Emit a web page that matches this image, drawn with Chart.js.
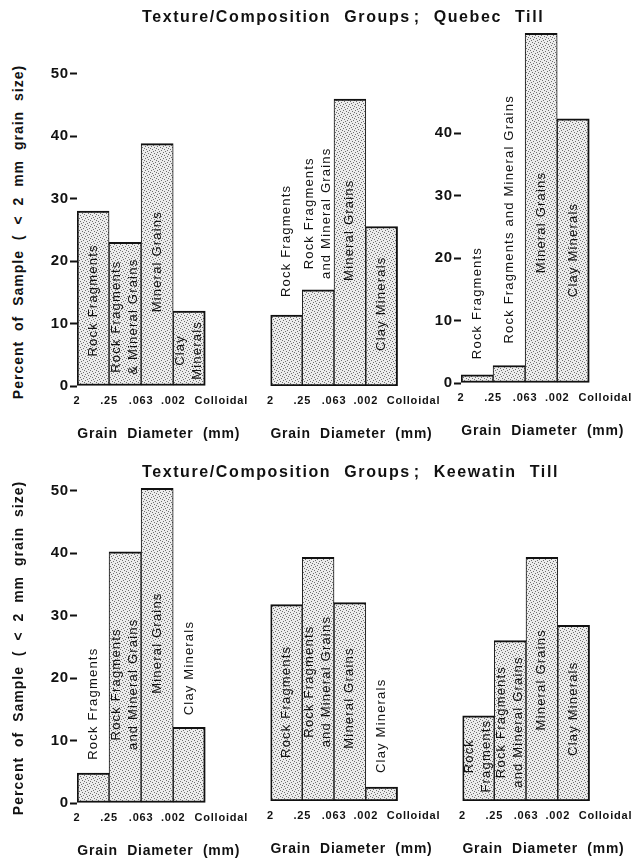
<!DOCTYPE html>
<html>
<head>
<meta charset="utf-8">
<script src="https://cdn.jsdelivr.net/npm/chart.js@4"></script>
<style>
html, body { margin: 0; padding: 0; background: #fff; }
body { width: 637px; height: 862px; position: relative; overflow: hidden;
       font-family: "Liberation Sans", Arial, sans-serif; color: #111; }
canvas { position: absolute; }
.title { position: absolute; font-weight: bold; font-size: 16px; letter-spacing: 1.6px;
         word-spacing: 7px; white-space: nowrap; transform: translateY(-50%); }
.ytitle { position: absolute; font-weight: bold; font-size: 14px; letter-spacing: 1px;
          word-spacing: 5px; white-space: nowrap; transform: translate(-50%, -50%) rotate(-90deg); }
</style>
</head>
<body>
<canvas id="qA" width="221" height="425" style="left:37px;top:20px"></canvas>
<canvas id="qB" width="191" height="425" style="left:259px;top:20px"></canvas>
<canvas id="qC" width="221" height="425" style="left:421px;top:17px"></canvas>
<canvas id="kA" width="221" height="425" style="left:37px;top:437px"></canvas>
<canvas id="kB" width="191" height="425" style="left:259px;top:435px"></canvas>
<canvas id="kC" width="191" height="425" style="left:451px;top:435px"></canvas>

<div class="title" style="left:142px;top:17px">Texture/Composition Groups&#8202;; Quebec Till</div>
<div class="title" style="left:142px;top:472px">Texture/Composition Groups&#8202;; Keewatin Till</div>
<div class="ytitle" style="left:18px;top:232px">Percent of Sample ( &lt; 2 mm grain size)</div>
<div class="ytitle" style="left:18px;top:648px">Percent of Sample ( &lt; 2 mm grain size)</div>

<script>
// grain size class boundaries (x axis)
const edgeLabels = ['2', '.25', '.063', '.002', 'Colloidal'];
const edgeValues = [0, 1, 2, 3, 4.5];
const leftTicks = [0, 10, 20, 30, 40, 50];
const rightTicks = [0, 10, 20, 30, 40];

// percent of sample, one value per texture/composition group
const quebecA = [28, 23, 38.8, 12];
const quebecB = [11.3, 15.3, 45.7, 25.4];
const quebecC = [1.3, 2.8, 56, 42.3];
const keewatinA = [4.8, 40.2, 50.4, 12.1];
const keewatinB = [31.1, 38.6, 31.4, 2.2];
const keewatinC = [13.5, 25.4, 38.6, 27.8];

// group names written inside / above the bars
const namesA = [['Rock Fragments'], ['Rock Fragments', '& Mineral Grains'], ['Mineral Grains'], ['Clay', 'Minerals']];
const namesB = [['Rock Fragments'], ['Rock Fragments', 'and Mineral Grains'], ['Mineral Grains'], ['Clay Minerals']];
const namesC = [['Rock Fragments'], ['Rock Fragments and Mineral Grains'], ['Mineral Grains'], ['Clay Minerals']];
const namesD = [['Rock', 'Fragments'], ['Rock Fragments', 'and Mineral Grains'], ['Mineral Grains'], ['Clay Minerals']];

// where the rotated names sit (centre, in axis units)
const nameAtQA = [13.7, 11.1, 19.9, 5.7];
const nameAtQB = [23.1, 27.5, 24.8, 13.1];
const nameAtQC = [12.8, 26.2, 25.7, 21.3];
const nameAtKA = [15.9, 19.0, 25.6, 21.6];
const nameAtKB = [15.7, 18.9, 16.3, 11.9];
const nameAtKC = [7.1, 12.5, 19.2, 14.6];

const FONT = '"Liberation Sans", Arial, sans-serif';
const INK = '#111';

// stippled grey fill like the printed figure
function stipple() {
    var c = document.createElement('canvas');
    c.width = 6; c.height = 6;
    var g = c.getContext('2d');
    g.fillStyle = '#ececec';
    g.fillRect(0, 0, 6, 6);
    g.fillStyle = '#6f6f6f';
    [[0, 0], [3, 1], [1, 3], [4, 4], [2, 5], [5, 2]].forEach(function (p) { g.fillRect(p[0], p[1], 1, 1); });
    return g.createPattern(c, 'repeat');
}
const fill = stipple();

const spacing = {
    id: 'spacing',
    beforeLayout: function (c) { c.ctx.letterSpacing = '0.8px'; },
    beforeDraw: function (c) { c.ctx.letterSpacing = '0.8px'; }
};

function barNames(lines, centres) {
    return {
        id: 'barNames',
        afterDatasetsDraw: function (chart) {
            var ctx = chart.ctx;
            var meta = chart.getDatasetMeta(0);
            var y = chart.scales.y;
            ctx.save();
            ctx.font = '13px ' + FONT;
            ctx.letterSpacing = '1.2px';
            ctx.fillStyle = INK;
            ctx.textAlign = 'center';
            ctx.textBaseline = 'middle';
            meta.data.forEach(function (bar, i) {
                var l = lines[i];
                ctx.save();
                ctx.translate(bar.x, y.getPixelForValue(centres[i]));
                ctx.rotate(-Math.PI / 2);
                l.forEach(function (t, j) { ctx.fillText(t, 0, (j - (l.length - 1) / 2) * 17); });
                ctx.restore();
            });
            ctx.restore();
        }
    };
}

function panel(id, values, lines, centres, yTicks, topPad) {
    var last = values.length - 1;
    new Chart(document.getElementById(id), {
        type: 'bar',
        data: {
            datasets: [{
                data: values.map(function (v, i) { return { x: i + 0.5, y: v }; }),
                backgroundColor: fill,
                borderColor: INK,
                borderSkipped: false,
                borderWidth: function (c) {
                    return { top: 2, bottom: 2, left: c.dataIndex === 0 ? 2 : 1, right: c.dataIndex === last ? 2 : 1 };
                },
                barPercentage: 1,
                categoryPercentage: 1
            }]
        },
        options: {
            responsive: false,
            animation: false,
            devicePixelRatio: 1,
            layout: { padding: { top: topPad, bottom: 0, left: yTicks ? 0 : 10, right: 16 } },
            plugins: { legend: { display: false }, tooltip: { enabled: false } },
            scales: {
                x: {
                    type: 'linear', min: 0, max: 5.1, offset: false,
                    afterBuildTicks: function (s) { s.ticks = edgeValues.map(function (v) { return { value: v }; }); },
                    afterFit: function (s) { s.height = 59; },
                    grid: { display: false, drawTicks: false },
                    border: { display: false },
                    ticks: {
                        autoSkip: false, maxRotation: 0, padding: 8, color: INK,
                        font: { family: FONT, size: 11, weight: 'bold' },
                        callback: function (v, i) { return edgeLabels[i]; }
                    },
                    title: {
                        display: true, text: 'Grain  Diameter  (mm)', color: INK,
                        font: { family: FONT, size: 14, weight: 'bold' },
                        padding: { top: 0, bottom: 2 }
                    }
                },
                y: {
                    min: 0, max: 57, display: !!yTicks,
                    afterBuildTicks: function (s) { s.ticks = (yTicks || []).map(function (v) { return { value: v }; }); },
                    afterFit: function (s) { s.width = yTicks ? 40 : 0; },
                    grid: { drawOnChartArea: false, drawTicks: true, tickLength: 7, tickWidth: 2, tickColor: INK },
                    border: { display: false },
                    ticks: { padding: 1, color: INK, font: { family: FONT, size: 15, weight: 'bold' } }
                }
            }
        },
        plugins: [spacing, barNames(lines, centres)]
    });
}

panel('qA', quebecA, namesA, nameAtQA, leftTicks, 8);
panel('qB', quebecB, namesB, nameAtQB, null, 8);
panel('qC', quebecC, namesC, nameAtQC, rightTicks, 8);
panel('kA', keewatinA, namesB, nameAtKA, leftTicks, 6);
panel('kB', keewatinB, namesB, nameAtKB, null, 6);
panel('kC', keewatinC, namesD, nameAtKC, null, 6);
</script>
</body>
</html>
